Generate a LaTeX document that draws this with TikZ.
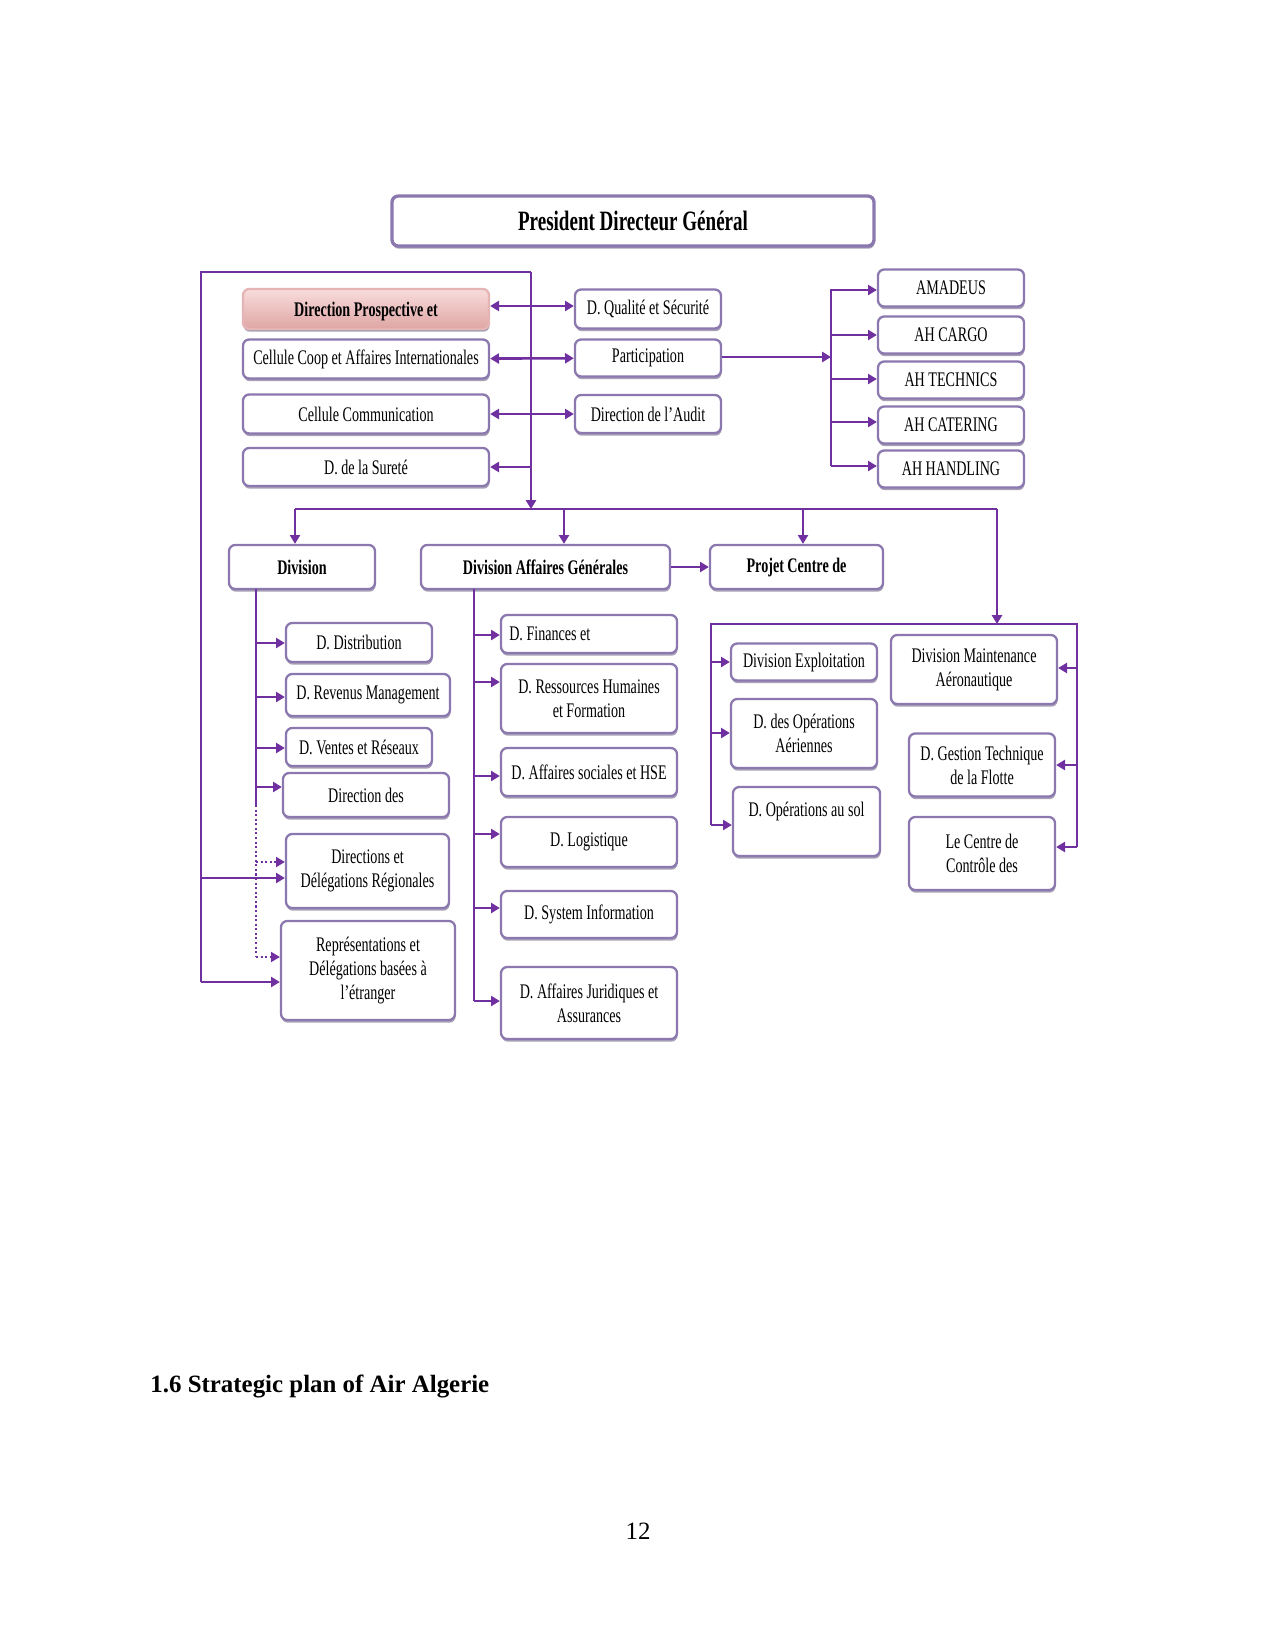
\documentclass[tikz,border=0pt]{standalone}
\usepackage{fontspec}
\setmainfont{Liberation Serif}
\newfontfamily\orgfont[FakeStretch=0.68]{Liberation Serif}
\usetikzlibrary{arrows.meta,shadows}
\newdimen\pu \pu=0.0169333cm
\newcommand{\boxfont}{\orgfont\fontsize{10}{11.5}\selectfont}
\definecolor{orgline}{HTML}{7030A0}
\definecolor{orgedge}{HTML}{8A78AE}
\definecolor{pinktop}{HTML}{F8DCDC}
\definecolor{pinkbot}{HTML}{D99694}

\begin{document}
\begin{tikzpicture}[x=0.0169333cm,y=-0.0169333cm,
  box/.style={draw=orgedge,line width=1.1pt,rounded corners=3pt,fill=white,align=center,inner sep=2pt,font=\boxfont,
    drop shadow={shadow xshift=0.3pt,shadow yshift=-1.3pt,fill=orgedge!70!black,opacity=0.55}},
  hbox/.style={box,font=\boxfont\bfseries},
  sz/.style 2 args={minimum width=#1*\pu,minimum height=#2*\pu},
  link/.style={orgline,line width=1.25pt},
  arr/.style={link,-{Triangle[length=1.5mm,width=1.7mm]}},
  darr/.style={link,{Triangle[length=1.5mm,width=1.7mm]}-{Triangle[length=1.5mm,width=1.7mm]}},
  dots/.style={line width=0.9pt,dash pattern=on 1pt off 1.2pt}]
  \path[use as bounding box,fill=white] (0,0) rectangle (1275,1650);
  % top
  \node[hbox,sz={482}{50},line width=1.6pt,font=\orgfont\bfseries\fontsize{13.5}{16}\selectfont] (pdg) at (633,221) {President Directeur Général};
  % staff cells
  \node[hbox,sz={246}{40},draw=pinkbot!70,top color=pinktop,bottom color=pinkbot!85,text depth=-1pt] (dpe) at (366,309) {Direction Prospective et};
  \node[box,sz={246}{39}] (cci) at (366,359) {Cellule Coop et Affaires Internationales};
  \node[box,sz={246}{39}] (ccom) at (366,414) {Cellule Communication};
  \node[box,sz={246}{38}] (dsur) at (366,467) {D. de la Sureté};
  \node[box,sz={146}{39}] (dqs) at (648,309) {D. Qualité et Sécurité};
  \node[box,sz={146}{37}] (part) at (648,358) {Participation};
  \node[box,sz={146}{38}] (audit) at (648,414) {Direction de l’Audit};
  % subsidiaries
  \foreach \n/\y/\t in {ama/288/AMADEUS, cargo/335/AH CARGO, tech/380/AH TECHNICS, cater/425/AH CATERING, hand/469/AH HANDLING}
    \node[box,sz={146}{37}] (\n) at (951,\y) {\t};
  % divisions
  \node[hbox,sz={146}{44}] (div) at (302,567) {Division};
  \node[hbox,sz={249}{44}] (dag) at (545.5,567) {Division Affaires Générales};
  \node[hbox,sz={173}{44}] (pcd) at (796.5,567) {Projet Centre de};
  % commercial directions
  \node[box,sz={146}{39}] (ddis) at (359,642.5) {D. Distribution};
  \node[box,sz={164}{42}] (drm) at (368,695) {D. Revenus Management};
  \node[box,sz={146}{38}] (dvr) at (359,747) {D. Ventes et Réseaux};
  \node[box,sz={166}{44}] (ddes) at (366,795) {Direction des};
  \node[box,sz={163}{74}] (ddr) at (367.5,871) {Directions et\\Délégations Régionales};
  \node[box,sz={174}{99}] (rep) at (368,970.5) {Représentations et\\Délégations basées à\\l’étranger};
  % general affairs
  \node[box,sz={176}{38}] (dfin) at (589,634) {\makebox[2.7cm][l]{D. Finances et}};
  \node[box,sz={176}{69}] (dhr) at (589,698.5) {D. Ressources Humaines\\et Formation};
  \node[box,sz={176}{48}] (dash) at (589,772) {D. Affaires sociales et HSE};
  \node[box,sz={176}{50}] (dlog) at (589,842) {D. Logistique};
  \node[box,sz={176}{47}] (dsi) at (589,914.5) {D. System Information};
  \node[box,sz={176}{72}] (daj) at (589,1003) {D. Affaires Juridiques et\\Assurances};
  % operations and maintenance
  \node[box,sz={146}{37}] (dex) at (804,662) {Division Exploitation};
  \node[box,sz={146}{69}] (doa) at (804,733.5) {D. des Opérations\\Aériennes};
  \node[box,sz={147}{69}] (dos) at (806.5,821.5) {D. Opérations au sol\\~};
  \node[box,sz={166}{69}] (dma) at (974,669.5) {Division Maintenance\\Aéronautique};
  \node[box,sz={146}{63}] (dgt) at (982,765) {D. Gestion Technique\\de la Flotte};
  \node[box,sz={146}{73}] (ccc) at (982,853.5) {Le Centre de\\Contrôle des};
  % junctions
  \coordinate (tl) at (201,272); \coordinate (tr) at (531,272);
  \coordinate (pj) at (831,357);
  \coordinate (bw) at (295,509); \coordinate (bm) at (564,509);
  \coordinate (bp) at (803,509); \coordinate (be) at (997,509);
  \coordinate (gw) at (711,624); \coordinate (ge) at (1077,624);
  % staff links
  \draw[link] (201,982) -- (tl) -- (tr);
  \draw[arr] (tr) -- (tr |- bw);
  \draw[darr] (dpe.east |- 0,306) -- (dqs.west |- 0,306);
  \draw[darr] (cci) -- (part);
  \draw[darr] (ccom) -- (audit);
  \draw[arr] (tr |- dsur) -- (dsur);
  \draw[arr] (part.east |- pj) -- (pj);
  \draw[link] (pj |- 0,289) -- (pj |- 0,466);
  \foreach \n/\y in {ama/290,cargo/335,tech/379,cater/422,hand/466}
    \draw[arr] (pj |- 0,\y) -- (\n.west |- 0,\y);
  % bus
  \draw[link] (bw) -- (be);
  \draw[arr] (bw) -- (bw |- div.north);
  \draw[arr] (bm) -- (bm |- dag.north);
  \draw[arr] (bp) -- (bp |- pcd.north);
  \draw[arr] (be) -- (be |- gw);
  \draw[arr] (dag) -- (pcd);
  % commercial branch
  \draw[link] (256,589) -- (256,805);
  \draw[link,dots] (256,805) -- (256,957);
  \foreach \n/\y in {ddis/643,drm/697,dvr/748,ddes/787}
    \draw[arr] (256,\y) -- (\n.west |- 0,\y);
  \foreach \n/\y in {ddr/862,rep/957}
    \draw[arr,dots] (256,\y) -- (\n.west |- 0,\y);
  \draw[arr] (201,878) -- (ddr.west |- 0,878);
  \draw[arr] (201,982) -- (rep.west |- 0,982);
  % general affairs branch
  \draw[link] (474,589) -- (474,1001);
  \foreach \n/\y in {dfin/635,dhr/682,dash/776,dlog/834,dsi/908,daj/1001}
    \draw[arr] (474,\y) -- (\n.west |- 0,\y);
  % operations group
  \draw[link] (711,825) -- (gw) -- (ge) -- (1077,847);
  \foreach \n/\y in {dex/662,doa/733,dos/825}
    \draw[arr] (711,\y) -- (\n.west |- 0,\y);
  \foreach \n/\y in {dma/668,dgt/765,ccc/847}
    \draw[arr] (1077,\y) -- (\n.east |- 0,\y);
  % page text
  \node[anchor=base west,inner sep=0pt,font=\bfseries\fontsize{12}{14}\selectfont] (sec) at (150,1392) {1.6 Strategic plan of Air Algerie};
  \node[anchor=base,inner sep=0pt,font=\fontsize{12}{14}\selectfont] (pg) at (638,1539) {12};
\end{tikzpicture}
\end{document}
